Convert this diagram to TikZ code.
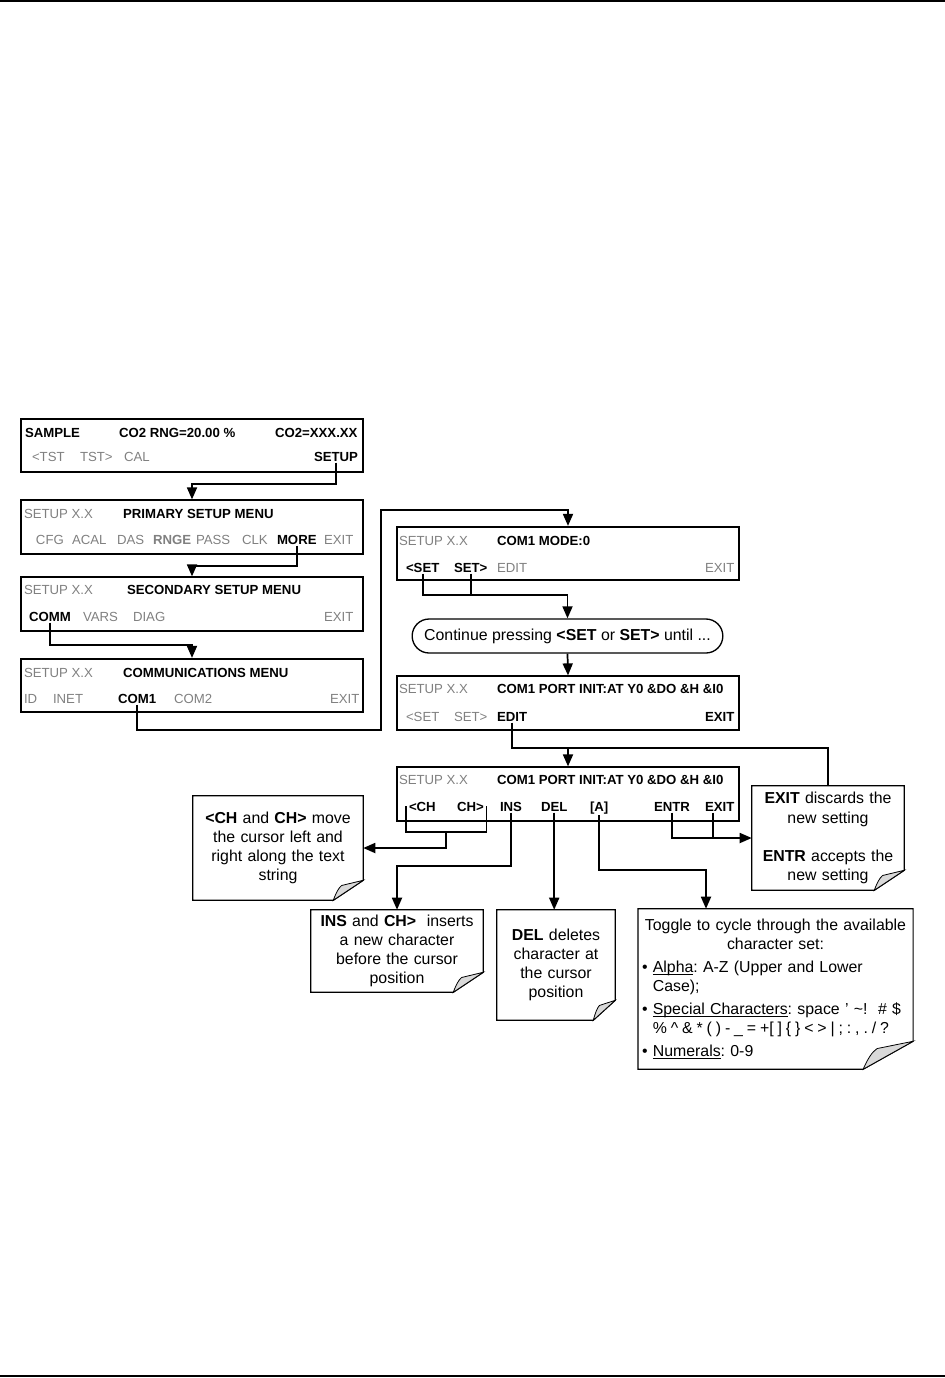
\documentclass[tikz,border=0pt]{standalone}
\usepackage{fontspec}
\setmainfont{Liberation Sans}
\usetikzlibrary{arrows.meta,calc}
\setlength{\parindent}{0pt}
\frenchspacing
\newcommand{\scrfont}{\fontsize{9.9}{12}\selectfont}
\newcommand{\notefont}{\fontsize{11.9}{14.3}\selectfont}
\newcommand{\itm}{\makebox[8pt][l]{\textbullet}}
\newcommand{\uln}[1]{\setbox0\hbox{#1}\rlap{\rule[-1.6pt]{\wd0}{0.6pt}}\box0}
\newcommand{\noteframe}[3]{%
  \draw[notebox] (#1.north west) -- (#1.north east) -- ($(#1.south east)+(0,-#3)$)
    -- ($(#1.south east)+(-#2,0)$) -- (#1.south west) -- cycle;
  \draw[fold] ($(#1.south east)+(-#2,0)$)
    .. controls ($(#1.south east)+(-0.9*#2,-0.4*#3)$) and ($(#1.south east)+(-0.82*#2,-0.62*#3)$)
    .. ($(#1.south east)+(-0.72*#2,-0.74*#3)$) -- ($(#1.south east)+(0,-#3)$) -- cycle;
}

\begin{document}
\begin{tikzpicture}[
x=0.75pt, y=-0.75pt,
scr/.style = {draw, line width=1.4pt, minimum width=257pt, minimum height=40pt, inner sep=0},
st/.style = {anchor=base west, inner sep=0, outer xsep=0pt, outer ysep=1.2pt, font=\scrfont},
sb/.style = {st, font=\scrfont\bfseries},
sg/.style = {st, text=black!50},
sbg/.style = {sb, text=black!50},
note/.style = {font=\notefont, align=center, inner sep=0},
notebox/.style = {draw, line width=0.9pt},
fold/.style = {draw, line width=0.6pt, fill=gray!30},
line/.style = {draw=black, line width=1.3pt},
arr/.style = {line, -{Triangle[length=9pt,width=7.5pt]}},
]
\useasboundingbox (0,0) rectangle (945,1378);
\draw[line width=1.5pt] (0,1) -- (945,1);
\draw[line width=1.5pt] (0,1376) -- (945,1376);

% main screen
\node[scr] (scrA) at (192,445.5) {};
\node[sb] (aSample) at (25,437) {SAMPLE};
\node[sb] (aRng) at (119,437) {CO2 RNG=20.00 \%};
\node[sb] (aCo2) at (275,437) {CO2=XXX.XX};
\node[sg] (aTstL) at (32,461) {<TST};
\node[sg] (aTstR) at (80,461) {TST>};
\node[sg] (aCal) at (124,461) {CAL};
\node[sb] (aSetup) at (314,461) {SETUP};

% primary setup
\node[scr] (scrB) at (192,527) {};
\node[sg] (bHead) at (24,518) {SETUP X.X};
\node[sb] (bTitle) at (123,518) {PRIMARY SETUP MENU};
\node[sg] (bCfg) at (36,544) {CFG};
\node[sg] (bAcal) at (72,544) {ACAL};
\node[sg] (bDas) at (117,544) {DAS};
\node[sbg] (bRnge) at (153,544) {RNGE};
\node[sg] (bPass) at (196,544) {PASS};
\node[sg] (bClk) at (242,544) {CLK};
\node[sb] (bMore) at (277,544) {MORE};
\node[sg] (bExit) at (324,544) {EXIT};

% secondary setup
\node[scr] (scrC) at (192,604) {};
\node[sg] (cHead) at (24,594) {SETUP X.X};
\node[sb] (cTitle) at (127,594) {SECONDARY SETUP MENU};
\node[sb] (cComm) at (29,621) {COMM};
\node[sg] (cVars) at (83,621) {VARS};
\node[sg] (cDiag) at (133,621) {DIAG};
\node[sg] (cExit) at (324,621) {EXIT};

% communications
\node[scr] (scrD) at (192,685.5) {};
\node[sg] (dHead) at (24,677) {SETUP X.X};
\node[sb] (dTitle) at (123,677) {COMMUNICATIONS MENU};
\node[sg] (dId) at (24,703) {ID};
\node[sg] (dInet) at (53,703) {INET};
\node[sb] (dCom1) at (118,703) {COM1};
\node[sg] (dCom2) at (174,703) {COM2};
\node[sg] (dExit) at (330,703) {EXIT};

% com1 mode
\node[scr] (scrE) at (568,553.5) {};
\node[sg] (eHead) at (399,545) {SETUP X.X};
\node[sb] (eTitle) at (497,545) {COM1 MODE:0};
\node[sb] (eSetL) at (406,572) {<SET};
\node[sb] (eSetR) at (454,572) {SET>};
\node[sg] (eEdit) at (497,572) {EDIT};
\node[sg] (eExit) at (705,572) {EXIT};

\node[draw, line width=1pt, rounded corners=12.7pt, minimum width=233pt, minimum height=25.5pt,
  font=\notefont] (cont) at (567.5,636) {Continue pressing \textbf{<SET} or \textbf{SET>} until ...};

% port init
\node[scr] (scrF) at (568,703) {};
\node[sg] (fHead) at (399,693) {SETUP X.X};
\node[sb] (fTitle) at (497,693) {COM1 PORT INIT:AT Y0 \&DO \&H \&I0};
\node[sg] (fSetL) at (406,721) {<SET};
\node[sg] (fSetR) at (454,721) {SET>};
\node[sb] (fEdit) at (497,721) {EDIT};
\node[sb] (fExit) at (705,721) {EXIT};

% edit screen
\node[scr] (scrG) at (568,794) {};
\node[sg] (gHead) at (399,784) {SETUP X.X};
\node[sb] (gTitle) at (497,784) {COM1 PORT INIT:AT Y0 \&DO \&H \&I0};
\node[sb] (gChL) at (409,811) {<CH};
\node[sb] (gChR) at (457,811) {CH>};
\node[sb] (gIns) at (500,811) {INS};
\node[sb] (gDel) at (541,811) {DEL};
\node[sb] (gA) at (590,811) {[A]};
\node[sb] (gEntr) at (654,811) {ENTR};
\node[sb] (gExit) at (705,811) {EXIT};

% notes
\node[note, minimum width=127.5pt, minimum height=78pt, text width=120pt] (noteCh) at (278,848)
  {\textbf{<CH} and \textbf{CH>} move\\ the cursor left and\\ right along the text\\ string};
\node[note, minimum width=129pt, minimum height=61.5pt, text width=122pt] (noteIns) at (397,951)
  {\textbf{INS} and \textbf{CH>}\ \ inserts\\ a new character\\ before the cursor\\ position};
\node[note, minimum width=88.5pt, minimum height=82.5pt, text width=82pt] (noteDel) at (556,965)
  {\textbf{DEL} deletes\\ character at\\ the cursor\\ position};
\node[note, minimum width=114pt, minimum height=78pt, text width=108pt] (noteExit) at (828,838)
  {\textbf{EXIT} discards the\\ new setting\\[14.3pt] \textbf{ENTR} accepts the\\ new setting};
\node[note, align=left, inner sep=3pt, minimum width=206pt, minimum height=120pt, text width=200pt] (noteSet) at (775.5,989)
  {{\centering Toggle to cycle through the available\\ character set:\par}\vspace{3pt}
   \itm\uln{Alpha}: A-Z (Upper and Lower\\ \hspace*{8pt}Case);\par\vspace{3pt}
   \mbox{\itm\uln{Special Characters}: space ’ \textasciitilde!\ \ \# \$}\\
   \mbox{\spaceskip=0.245em\hspace*{8pt}\% \textasciicircum{} \& * ( ) - \_ = +[ ] \{ \} < > | ; : , . / ?}\par\vspace{3pt}
   \itm\uln{Numerals}: 0-9};
\noteframe{noteCh}{30}{20}
\noteframe{noteIns}{30}{20}
\noteframe{noteDel}{22}{20}
\noteframe{noteExit}{30}{20}
\noteframe{noteSet}{50}{28}

% connectors
\draw[arr] (aSetup.south) -- (aSetup.south |- 0,484) -| (scrB.north);
\draw[arr] (bMore.south) -- (bMore.south |- 0,566) -| (scrC.north);
\draw[arr] (cComm.south) -- (cComm.south |- 0,645) -| (scrD.north);
\draw[arr] (dCom1.south) |- (381,730) |- (scrE.north |- 0,510) -- (scrE.north);
\draw[arr] (eSetL.south) |- (cont.north |- 0,595) -- (cont.north);
\draw[line] (eSetR.south) -- (eSetR.south |- 0,595);
\draw[arr] (cont.south) -- (scrF.north);
\draw[arr] (fEdit.south) |- (scrG.north |- 0,748) -- (scrG.north);
\draw[line] (noteExit.north) |- (scrG.north |- 0,748);
\coordinate (chMid) at (446,832);
\draw[line] ([xshift=-2pt]gChL.west) |- (chMid) -| ([xshift=2pt]gChR.east);
\draw[arr] (chMid) |- (noteCh.east);
\draw[arr] (gIns.south) |- (noteIns.north |- 0,866) -- (noteIns.north);
\draw[arr] (gDel.south) -- (gDel.south |- noteDel.north);
\draw[arr] (gA.south) |- (706,870) -- (noteSet.north -| 706,0);
\draw[arr] (gEntr.south) |- (noteExit.west);
\draw[line] ([xshift=-5pt]gExit.south) -- ([xshift=-5pt]gExit.south |- noteExit.west);
\end{tikzpicture}
\end{document}
